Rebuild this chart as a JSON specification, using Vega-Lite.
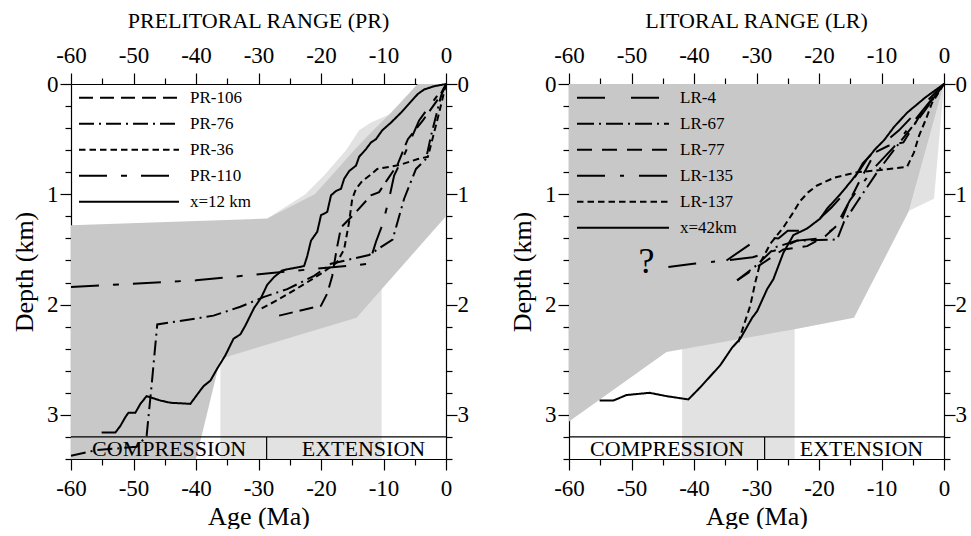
{
  "$schema": "https://vega.github.io/schema/vega-lite/v6.json",
  "background": "white",
  "padding": {"left": 11, "top": 10, "right": 0, "bottom": 0},
  "spacing": 123,
  "bounds": "flush",
  "config": {
    "font": "Liberation Serif",
    "view": {"stroke": null},
    "axis": {"grid": false, "domainColor": "black", "tickColor": "black", "labelColor": "black", "titleColor": "black", "labelFont": "Liberation Serif", "titleFont": "Liberation Serif", "labelFontSize": 23, "titleFontSize": 26, "titleFontWeight": "normal", "labelOverlap": false, "labelFlush": false, "labelBound": false, "zindex": 1, "domainWidth": 1.2, "tickWidth": 1.2},
    "legend": {"labelFont": "Liberation Serif", "labelFontSize": 17, "labelColor": "black"},
    "title": {"font": "Liberation Serif", "fontSize": 22, "fontWeight": "normal", "color": "black"}
  },
  "datasets": {
    "polys": [
      {"p": "PR", "k": "light", "g": "PRl1", "i": 1, "x": -28.6, "y": 1.22},
      {"p": "PR", "k": "light", "g": "PRl1", "i": 2, "x": -22.5, "y": 1.0},
      {"p": "PR", "k": "light", "g": "PRl1", "i": 3, "x": -19.5, "y": 0.83},
      {"p": "PR", "k": "light", "g": "PRl1", "i": 4, "x": -16, "y": 0.6},
      {"p": "PR", "k": "light", "g": "PRl1", "i": 5, "x": -13.9, "y": 0.42},
      {"p": "PR", "k": "light", "g": "PRl1", "i": 6, "x": -12, "y": 0.35},
      {"p": "PR", "k": "light", "g": "PRl1", "i": 7, "x": -8.8, "y": 0.27},
      {"p": "PR", "k": "light", "g": "PRl1", "i": 8, "x": -6.4, "y": 0.14},
      {"p": "PR", "k": "light", "g": "PRl1", "i": 9, "x": -4.3, "y": 0.015},
      {"p": "PR", "k": "light", "g": "PRl1", "i": 10, "x": -4, "y": 0},
      {"p": "PR", "k": "light", "g": "PRl1", "i": 11, "x": 0, "y": 0},
      {"p": "PR", "k": "light", "g": "PRl1", "i": 12, "x": 0, "y": 1.2},
      {"p": "PR", "k": "light", "g": "PRl2", "i": 1, "x": -36.1, "y": 1.8},
      {"p": "PR", "k": "light", "g": "PRl2", "i": 2, "x": -10.3, "y": 1.8},
      {"p": "PR", "k": "light", "g": "PRl2", "i": 3, "x": -10.3, "y": 3.4},
      {"p": "PR", "k": "light", "g": "PRl2", "i": 4, "x": -36.1, "y": 3.4},
      {"p": "PR", "k": "dark", "g": "PRd", "i": 1, "x": -60, "y": 1.28},
      {"p": "PR", "k": "dark", "g": "PRd", "i": 2, "x": -28.6, "y": 1.22},
      {"p": "PR", "k": "dark", "g": "PRd", "i": 3, "x": -21, "y": 1.0},
      {"p": "PR", "k": "dark", "g": "PRd", "i": 4, "x": -17.5, "y": 0.78},
      {"p": "PR", "k": "dark", "g": "PRd", "i": 5, "x": -14.7, "y": 0.6},
      {"p": "PR", "k": "dark", "g": "PRd", "i": 6, "x": -12, "y": 0.44},
      {"p": "PR", "k": "dark", "g": "PRd", "i": 7, "x": -8.8, "y": 0.26},
      {"p": "PR", "k": "dark", "g": "PRd", "i": 8, "x": -4.8, "y": 0.015},
      {"p": "PR", "k": "dark", "g": "PRd", "i": 9, "x": -4.5, "y": 0},
      {"p": "PR", "k": "dark", "g": "PRd", "i": 10, "x": 0, "y": 0},
      {"p": "PR", "k": "dark", "g": "PRd", "i": 11, "x": 0, "y": 1.2},
      {"p": "PR", "k": "dark", "g": "PRd", "i": 12, "x": -10.3, "y": 1.86},
      {"p": "PR", "k": "dark", "g": "PRd", "i": 13, "x": -14.3, "y": 2.12},
      {"p": "PR", "k": "dark", "g": "PRd", "i": 14, "x": -36.1, "y": 2.49},
      {"p": "PR", "k": "dark", "g": "PRd", "i": 15, "x": -40, "y": 3.4},
      {"p": "PR", "k": "dark", "g": "PRd", "i": 16, "x": -60, "y": 3.4},
      {"p": "LR", "k": "light", "g": "LRl1", "i": 1, "x": 0, "y": 0},
      {"p": "LR", "k": "light", "g": "LRl1", "i": 2, "x": -1.6, "y": 1.04},
      {"p": "LR", "k": "light", "g": "LRl1", "i": 3, "x": -5.6, "y": 1.15},
      {"p": "LR", "k": "light", "g": "LRl2", "i": 1, "x": -41.9, "y": 2.2},
      {"p": "LR", "k": "light", "g": "LRl2", "i": 2, "x": -23.9, "y": 2.2},
      {"p": "LR", "k": "light", "g": "LRl2", "i": 3, "x": -23.9, "y": 3.4},
      {"p": "LR", "k": "light", "g": "LRl2", "i": 4, "x": -41.9, "y": 3.4},
      {"p": "LR", "k": "dark", "g": "LRd", "i": 1, "x": -60, "y": 0},
      {"p": "LR", "k": "dark", "g": "LRd", "i": 2, "x": 0, "y": 0},
      {"p": "LR", "k": "dark", "g": "LRd", "i": 3, "x": -5.6, "y": 1.15},
      {"p": "LR", "k": "dark", "g": "LRd", "i": 4, "x": -14.4, "y": 2.12},
      {"p": "LR", "k": "dark", "g": "LRd", "i": 5, "x": -23.5, "y": 2.22},
      {"p": "LR", "k": "dark", "g": "LRd", "i": 6, "x": -44.4, "y": 2.43},
      {"p": "LR", "k": "dark", "g": "LRd", "i": 7, "x": -60, "y": 3.06}
    ],
    "lines": [
      {"p": "PR", "s": "x=12 km", "i": 1, "x": 0, "y": 0},
      {"p": "PR", "s": "x=12 km", "i": 2, "x": -1.9, "y": 0.02},
      {"p": "PR", "s": "x=12 km", "i": 3, "x": -3.5, "y": 0.05},
      {"p": "PR", "s": "x=12 km", "i": 4, "x": -4.5, "y": 0.09},
      {"p": "PR", "s": "x=12 km", "i": 5, "x": -7.2, "y": 0.26},
      {"p": "PR", "s": "x=12 km", "i": 6, "x": -8.8, "y": 0.35},
      {"p": "PR", "s": "x=12 km", "i": 7, "x": -10.2, "y": 0.42},
      {"p": "PR", "s": "x=12 km", "i": 8, "x": -11.2, "y": 0.5},
      {"p": "PR", "s": "x=12 km", "i": 9, "x": -12.0, "y": 0.53},
      {"p": "PR", "s": "x=12 km", "i": 10, "x": -12.8, "y": 0.59},
      {"p": "PR", "s": "x=12 km", "i": 11, "x": -13.9, "y": 0.66},
      {"p": "PR", "s": "x=12 km", "i": 12, "x": -14.4, "y": 0.74},
      {"p": "PR", "s": "x=12 km", "i": 13, "x": -15.5, "y": 0.79},
      {"p": "PR", "s": "x=12 km", "i": 14, "x": -16.3, "y": 0.86},
      {"p": "PR", "s": "x=12 km", "i": 15, "x": -16.8, "y": 0.95},
      {"p": "PR", "s": "x=12 km", "i": 16, "x": -17.6, "y": 0.97},
      {"p": "PR", "s": "x=12 km", "i": 17, "x": -18.4, "y": 1.01},
      {"p": "PR", "s": "x=12 km", "i": 18, "x": -19.0, "y": 1.16},
      {"p": "PR", "s": "x=12 km", "i": 19, "x": -20.0, "y": 1.19},
      {"p": "PR", "s": "x=12 km", "i": 20, "x": -20.6, "y": 1.34},
      {"p": "PR", "s": "x=12 km", "i": 21, "x": -21.6, "y": 1.42},
      {"p": "PR", "s": "x=12 km", "i": 22, "x": -22.2, "y": 1.56},
      {"p": "PR", "s": "x=12 km", "i": 23, "x": -22.7, "y": 1.65},
      {"p": "PR", "s": "x=12 km", "i": 24, "x": -23.5, "y": 1.66},
      {"p": "PR", "s": "x=12 km", "i": 25, "x": -25.4, "y": 1.68},
      {"p": "PR", "s": "x=12 km", "i": 26, "x": -26.2, "y": 1.69},
      {"p": "PR", "s": "x=12 km", "i": 27, "x": -27.5, "y": 1.75},
      {"p": "PR", "s": "x=12 km", "i": 28, "x": -28.6, "y": 1.82},
      {"p": "PR", "s": "x=12 km", "i": 29, "x": -29.6, "y": 1.94},
      {"p": "PR", "s": "x=12 km", "i": 30, "x": -30.7, "y": 2.03},
      {"p": "PR", "s": "x=12 km", "i": 31, "x": -32.1, "y": 2.19},
      {"p": "PR", "s": "x=12 km", "i": 32, "x": -32.9, "y": 2.27},
      {"p": "PR", "s": "x=12 km", "i": 33, "x": -34.0, "y": 2.31},
      {"p": "PR", "s": "x=12 km", "i": 34, "x": -35.3, "y": 2.46},
      {"p": "PR", "s": "x=12 km", "i": 35, "x": -36.6, "y": 2.58},
      {"p": "PR", "s": "x=12 km", "i": 36, "x": -37.7, "y": 2.69},
      {"p": "PR", "s": "x=12 km", "i": 37, "x": -38.8, "y": 2.74},
      {"p": "PR", "s": "x=12 km", "i": 38, "x": -39.6, "y": 2.8},
      {"p": "PR", "s": "x=12 km", "i": 39, "x": -40.9, "y": 2.9},
      {"p": "PR", "s": "x=12 km", "i": 40, "x": -44.1, "y": 2.89},
      {"p": "PR", "s": "x=12 km", "i": 41, "x": -45.7, "y": 2.87},
      {"p": "PR", "s": "x=12 km", "i": 42, "x": -47.9, "y": 2.83},
      {"p": "PR", "s": "x=12 km", "i": 43, "x": -48.9, "y": 2.9},
      {"p": "PR", "s": "x=12 km", "i": 44, "x": -49.7, "y": 2.98},
      {"p": "PR", "s": "x=12 km", "i": 45, "x": -50.8, "y": 2.98},
      {"p": "PR", "s": "x=12 km", "i": 46, "x": -51.3, "y": 3.02},
      {"p": "PR", "s": "x=12 km", "i": 47, "x": -52.1, "y": 3.1},
      {"p": "PR", "s": "x=12 km", "i": 48, "x": -52.9, "y": 3.16},
      {"p": "PR", "s": "x=12 km", "i": 49, "x": -55.1, "y": 3.16},

      {"p": "PR", "s": "PR-106", "i": 1, "x": -26.7, "y": 2.1},
      {"p": "PR", "s": "PR-106", "i": 2, "x": -20, "y": 2.01},
      {"p": "PR", "s": "PR-106", "i": 3, "x": -19, "y": 1.9},
      {"p": "PR", "s": "PR-106", "i": 4, "x": -18.2, "y": 1.74},
      {"p": "PR", "s": "PR-106", "i": 5, "x": -17.5, "y": 1.5},
      {"p": "PR", "s": "PR-106", "i": 6, "x": -16.8, "y": 1.3},
      {"p": "PR", "s": "PR-106", "i": 7, "x": -14.7, "y": 1.18},
      {"p": "PR", "s": "PR-106", "i": 8, "x": -12, "y": 1.01},
      {"p": "PR", "s": "PR-106", "i": 9, "x": -10.7, "y": 0.98},
      {"p": "PR", "s": "PR-106", "i": 10, "x": -9.3, "y": 0.86},
      {"p": "PR", "s": "PR-106", "i": 11, "x": -7.75, "y": 0.73},
      {"p": "PR", "s": "PR-106", "i": 12, "x": -6.1, "y": 0.5},
      {"p": "PR", "s": "PR-106", "i": 13, "x": -3.7, "y": 0.33},
      {"p": "PR", "s": "PR-106", "i": 14, "x": -1.3, "y": 0.14},
      {"p": "PR", "s": "PR-106", "i": 15, "x": 0, "y": 0},

      {"p": "PR", "s": "PR-76", "i": 1, "x": -60, "y": 3.37},
      {"p": "PR", "s": "PR-76", "i": 2, "x": -56, "y": 3.32},
      {"p": "PR", "s": "PR-76", "i": 3, "x": -49.5, "y": 3.29},
      {"p": "PR", "s": "PR-76", "i": 4, "x": -47.9, "y": 3.19},
      {"p": "PR", "s": "PR-76", "i": 5, "x": -47.1, "y": 2.73},
      {"p": "PR", "s": "PR-76", "i": 6, "x": -46.2, "y": 2.18},
      {"p": "PR", "s": "PR-76", "i": 7, "x": -39.3, "y": 2.12},
      {"p": "PR", "s": "PR-76", "i": 8, "x": -37.2, "y": 2.1},
      {"p": "PR", "s": "PR-76", "i": 9, "x": -32.9, "y": 2.02},
      {"p": "PR", "s": "PR-76", "i": 10, "x": -29.1, "y": 1.93},
      {"p": "PR", "s": "PR-76", "i": 11, "x": -25.4, "y": 1.86},
      {"p": "PR", "s": "PR-76", "i": 12, "x": -21.1, "y": 1.74},
      {"p": "PR", "s": "PR-76", "i": 13, "x": -18.4, "y": 1.63},
      {"p": "PR", "s": "PR-76", "i": 14, "x": -12.3, "y": 1.55},
      {"p": "PR", "s": "PR-76", "i": 15, "x": -8.55, "y": 1.41},
      {"p": "PR", "s": "PR-76", "i": 16, "x": -6.7, "y": 1.04},
      {"p": "PR", "s": "PR-76", "i": 17, "x": -4.8, "y": 0.77},
      {"p": "PR", "s": "PR-76", "i": 18, "x": -3.2, "y": 0.68},
      {"p": "PR", "s": "PR-76", "i": 19, "x": -2.4, "y": 0.47},
      {"p": "PR", "s": "PR-76", "i": 20, "x": -0.8, "y": 0.11},
      {"p": "PR", "s": "PR-76", "i": 21, "x": 0, "y": 0},

      {"p": "PR", "s": "PR-36", "i": 1, "x": 0, "y": 0},
      {"p": "PR", "s": "PR-36", "i": 2, "x": -1.1, "y": 0.26},
      {"p": "PR", "s": "PR-36", "i": 3, "x": -1.9, "y": 0.44},
      {"p": "PR", "s": "PR-36", "i": 4, "x": -2.9, "y": 0.66},
      {"p": "PR", "s": "PR-36", "i": 5, "x": -4.5, "y": 0.68},
      {"p": "PR", "s": "PR-36", "i": 6, "x": -7.2, "y": 0.73},
      {"p": "PR", "s": "PR-36", "i": 7, "x": -8.8, "y": 0.75},
      {"p": "PR", "s": "PR-36", "i": 8, "x": -11, "y": 0.77},
      {"p": "PR", "s": "PR-36", "i": 9, "x": -12, "y": 0.82},
      {"p": "PR", "s": "PR-36", "i": 10, "x": -13.4, "y": 0.88},
      {"p": "PR", "s": "PR-36", "i": 11, "x": -14.4, "y": 0.95},
      {"p": "PR", "s": "PR-36", "i": 12, "x": -15, "y": 1.04},
      {"p": "PR", "s": "PR-36", "i": 13, "x": -15.5, "y": 1.25},
      {"p": "PR", "s": "PR-36", "i": 14, "x": -16.3, "y": 1.5},
      {"p": "PR", "s": "PR-36", "i": 15, "x": -17.5, "y": 1.62},
      {"p": "PR", "s": "PR-36", "i": 16, "x": -20, "y": 1.72},
      {"p": "PR", "s": "PR-36", "i": 17, "x": -24, "y": 1.86},
      {"p": "PR", "s": "PR-36", "i": 18, "x": -27, "y": 1.96},
      {"p": "PR", "s": "PR-36", "i": 19, "x": -30, "y": 2.05},

      {"p": "PR", "s": "PR-110", "i": 1, "x": -60, "y": 1.84},
      {"p": "PR", "s": "PR-110", "i": 2, "x": -40, "y": 1.78},
      {"p": "PR", "s": "PR-110", "i": 3, "x": -21.7, "y": 1.68},
      {"p": "PR", "s": "PR-110", "i": 4, "x": -15.8, "y": 1.65},
      {"p": "PR", "s": "PR-110", "i": 5, "x": -12.3, "y": 1.63},
      {"p": "PR", "s": "PR-110", "i": 6, "x": -11.2, "y": 1.43},
      {"p": "PR", "s": "PR-110", "i": 7, "x": -10.2, "y": 1.28},
      {"p": "PR", "s": "PR-110", "i": 8, "x": -9.1, "y": 1.04},
      {"p": "PR", "s": "PR-110", "i": 9, "x": -8.3, "y": 0.83},
      {"p": "PR", "s": "PR-110", "i": 10, "x": -6.5, "y": 0.62},
      {"p": "PR", "s": "PR-110", "i": 11, "x": -5.6, "y": 0.5},
      {"p": "PR", "s": "PR-110", "i": 12, "x": -4.3, "y": 0.33},
      {"p": "PR", "s": "PR-110", "i": 13, "x": -2.5, "y": 0.19},
      {"p": "PR", "s": "PR-110", "i": 14, "x": 0, "y": 0},

      {"p": "LR", "s": "x=42km", "i": 1, "x": 0, "y": 0},
      {"p": "LR", "s": "x=42km", "i": 2, "x": -2.94, "y": 0.12},
      {"p": "LR", "s": "x=42km", "i": 3, "x": -5.9, "y": 0.26},
      {"p": "LR", "s": "x=42km", "i": 4, "x": -8.0, "y": 0.39},
      {"p": "LR", "s": "x=42km", "i": 5, "x": -9.6, "y": 0.51},
      {"p": "LR", "s": "x=42km", "i": 6, "x": -11.0, "y": 0.59},
      {"p": "LR", "s": "x=42km", "i": 7, "x": -12.3, "y": 0.68},
      {"p": "LR", "s": "x=42km", "i": 8, "x": -13.6, "y": 0.79},
      {"p": "LR", "s": "x=42km", "i": 9, "x": -15.0, "y": 0.89},
      {"p": "LR", "s": "x=42km", "i": 10, "x": -16.6, "y": 1.0},
      {"p": "LR", "s": "x=42km", "i": 11, "x": -18.7, "y": 1.13},
      {"p": "LR", "s": "x=42km", "i": 12, "x": -19.8, "y": 1.22},
      {"p": "LR", "s": "x=42km", "i": 13, "x": -21.9, "y": 1.31},
      {"p": "LR", "s": "x=42km", "i": 14, "x": -24.1, "y": 1.37},
      {"p": "LR", "s": "x=42km", "i": 15, "x": -25.7, "y": 1.53},
      {"p": "LR", "s": "x=42km", "i": 16, "x": -27.3, "y": 1.77},
      {"p": "LR", "s": "x=42km", "i": 17, "x": -28.3, "y": 1.86},
      {"p": "LR", "s": "x=42km", "i": 18, "x": -29.9, "y": 2.06},
      {"p": "LR", "s": "x=42km", "i": 19, "x": -30.7, "y": 2.12},
      {"p": "LR", "s": "x=42km", "i": 20, "x": -32.6, "y": 2.31},
      {"p": "LR", "s": "x=42km", "i": 21, "x": -33.9, "y": 2.39},
      {"p": "LR", "s": "x=42km", "i": 22, "x": -35.8, "y": 2.55},
      {"p": "LR", "s": "x=42km", "i": 23, "x": -39.0, "y": 2.75},
      {"p": "LR", "s": "x=42km", "i": 24, "x": -40.9, "y": 2.86},
      {"p": "LR", "s": "x=42km", "i": 25, "x": -44.4, "y": 2.83},
      {"p": "LR", "s": "x=42km", "i": 26, "x": -47.1, "y": 2.8},
      {"p": "LR", "s": "x=42km", "i": 27, "x": -50.8, "y": 2.82},
      {"p": "LR", "s": "x=42km", "i": 28, "x": -52.9, "y": 2.87},
      {"p": "LR", "s": "x=42km", "i": 29, "x": -55.1, "y": 2.87},

      {"p": "LR", "s": "LR-137", "i": 1, "x": 0, "y": 0},
      {"p": "LR", "s": "LR-137", "i": 2, "x": -1.9, "y": 0.17},
      {"p": "LR", "s": "LR-137", "i": 3, "x": -2.9, "y": 0.32},
      {"p": "LR", "s": "LR-137", "i": 4, "x": -4.0, "y": 0.47},
      {"p": "LR", "s": "LR-137", "i": 5, "x": -4.8, "y": 0.62},
      {"p": "LR", "s": "LR-137", "i": 6, "x": -5.9, "y": 0.75},
      {"p": "LR", "s": "LR-137", "i": 7, "x": -10.2, "y": 0.78},
      {"p": "LR", "s": "LR-137", "i": 8, "x": -13.9, "y": 0.8},
      {"p": "LR", "s": "LR-137", "i": 9, "x": -17.6, "y": 0.85},
      {"p": "LR", "s": "LR-137", "i": 10, "x": -20.3, "y": 0.92},
      {"p": "LR", "s": "LR-137", "i": 11, "x": -21.7, "y": 0.98},
      {"p": "LR", "s": "LR-137", "i": 12, "x": -23, "y": 1.06},
      {"p": "LR", "s": "LR-137", "i": 13, "x": -24.3, "y": 1.18},
      {"p": "LR", "s": "LR-137", "i": 14, "x": -25.7, "y": 1.3},
      {"p": "LR", "s": "LR-137", "i": 15, "x": -27.8, "y": 1.45},
      {"p": "LR", "s": "LR-137", "i": 16, "x": -29.4, "y": 1.62},
      {"p": "LR", "s": "LR-137", "i": 17, "x": -30.2, "y": 1.8},
      {"p": "LR", "s": "LR-137", "i": 18, "x": -31, "y": 2.01},
      {"p": "LR", "s": "LR-137", "i": 19, "x": -32.1, "y": 2.2},
      {"p": "LR", "s": "LR-137", "i": 20, "x": -32.9, "y": 2.34},

      {"p": "LR", "s": "LR-4", "i": 1, "x": -34.8, "y": 1.6},
      {"p": "LR", "s": "LR-4", "i": 2, "x": -30.7, "y": 1.44},
      {"p": "LR", "s": "LR-4", "i": 3, "x": -28.9, "y": 1.39},
      {"p": "LR", "s": "LR-4", "i": 4, "x": -26.5, "y": 1.4},
      {"p": "LR", "s": "LR-4", "i": 5, "x": -25, "y": 1.33},
      {"p": "LR", "s": "LR-4", "i": 6, "x": -22, "y": 1.33},
      {"p": "LR", "s": "LR-4", "i": 7, "x": -18, "y": 1.12},
      {"p": "LR", "s": "LR-4", "i": 8, "x": -15.3, "y": 0.95},
      {"p": "LR", "s": "LR-4", "i": 9, "x": -13, "y": 0.72},
      {"p": "LR", "s": "LR-4", "i": 10, "x": -11, "y": 0.6},
      {"p": "LR", "s": "LR-4", "i": 11, "x": -7.2, "y": 0.42},
      {"p": "LR", "s": "LR-4", "i": 12, "x": -3.5, "y": 0.2},
      {"p": "LR", "s": "LR-4", "i": 13, "x": 0, "y": 0},

      {"p": "LR", "s": "LR-67", "i": 1, "x": -33.1, "y": 1.78},
      {"p": "LR", "s": "LR-67", "i": 2, "x": -29.9, "y": 1.64},
      {"p": "LR", "s": "LR-67", "i": 3, "x": -27, "y": 1.48},
      {"p": "LR", "s": "LR-67", "i": 4, "x": -23.5, "y": 1.42},
      {"p": "LR", "s": "LR-67", "i": 5, "x": -17.1, "y": 1.41},
      {"p": "LR", "s": "LR-67", "i": 6, "x": -16.0, "y": 1.25},
      {"p": "LR", "s": "LR-67", "i": 7, "x": -13.9, "y": 1.07},
      {"p": "LR", "s": "LR-67", "i": 8, "x": -10.7, "y": 0.8},
      {"p": "LR", "s": "LR-67", "i": 9, "x": -7.5, "y": 0.56},
      {"p": "LR", "s": "LR-67", "i": 10, "x": -3.7, "y": 0.29},
      {"p": "LR", "s": "LR-67", "i": 11, "x": 0, "y": 0},

      {"p": "LR", "s": "LR-77", "i": 1, "x": -33.1, "y": 1.78},
      {"p": "LR", "s": "LR-77", "i": 2, "x": -28.1, "y": 1.59},
      {"p": "LR", "s": "LR-77", "i": 3, "x": -25.7, "y": 1.5},
      {"p": "LR", "s": "LR-77", "i": 4, "x": -21.9, "y": 1.47},
      {"p": "LR", "s": "LR-77", "i": 5, "x": -19, "y": 1.38},
      {"p": "LR", "s": "LR-77", "i": 6, "x": -16.5, "y": 1.25},
      {"p": "LR", "s": "LR-77", "i": 7, "x": -15.2, "y": 1.07},
      {"p": "LR", "s": "LR-77", "i": 8, "x": -13.5, "y": 0.88},
      {"p": "LR", "s": "LR-77", "i": 9, "x": -11, "y": 0.62},
      {"p": "LR", "s": "LR-77", "i": 10, "x": -8.9, "y": 0.56},
      {"p": "LR", "s": "LR-77", "i": 11, "x": -6.5, "y": 0.53},
      {"p": "LR", "s": "LR-77", "i": 12, "x": -4, "y": 0.3},
      {"p": "LR", "s": "LR-77", "i": 13, "x": 0, "y": 0},

      {"p": "LR", "s": "LR-135", "i": 1, "x": -44.1, "y": 1.66},
      {"p": "LR", "s": "LR-135", "i": 2, "x": -40.1, "y": 1.63},
      {"p": "LR", "s": "LR-135", "i": 3, "x": -34.8, "y": 1.6},
      {"p": "LR", "s": "LR-135", "i": 4, "x": -30.6, "y": 1.57},
      {"p": "LR", "s": "LR-135", "i": 5, "x": -26.5, "y": 1.5},
      {"p": "LR", "s": "LR-135", "i": 6, "x": -23.5, "y": 1.42},
      {"p": "LR", "s": "LR-135", "i": 7, "x": -19.8, "y": 1.4},
      {"p": "LR", "s": "LR-135", "i": 8, "x": -17.4, "y": 1.3},
      {"p": "LR", "s": "LR-135", "i": 9, "x": -15, "y": 1.05},
      {"p": "LR", "s": "LR-135", "i": 10, "x": -11, "y": 0.75},
      {"p": "LR", "s": "LR-135", "i": 11, "x": -8, "y": 0.57},
      {"p": "LR", "s": "LR-135", "i": 12, "x": -5, "y": 0.35},
      {"p": "LR", "s": "LR-135", "i": 13, "x": 0, "y": 0}
    ],
    "rules": [
      {"p": "PR", "x": -60, "x2": 0, "y": 3.2, "y2": 3.2},
      {"p": "PR", "x": -28.7, "x2": -28.7, "y": 3.2, "y2": 3.4},
      {"p": "LR", "x": -60, "x2": 0, "y": 3.2, "y2": 3.2},
      {"p": "LR", "x": -28.7, "x2": -28.7, "y": 3.2, "y2": 3.4}
    ],
    "notes": [
      {"p": "PR", "x": -44.3, "y": 3.31, "t": "COMPRESSION", "sz": "n"},
      {"p": "PR", "x": -13.2, "y": 3.31, "t": "EXTENSION", "sz": "n"},
      {"p": "LR", "x": -44.3, "y": 3.31, "t": "COMPRESSION", "sz": "n"},
      {"p": "LR", "x": -13.2, "y": 3.31, "t": "EXTENSION", "sz": "n"},
      {"p": "LR", "x": -47.6, "y": 1.61, "t": "?", "sz": "q"}
    ]
  },
  "hconcat": [
    {
      "width": 375,
      "height": 375,
      "title": {"text": "PRELITORAL RANGE (PR)", "offset": 11},
      "resolve": {"axis": {"x": "independent", "y": "independent"}},
      "layer": [
        {
          "data": {"name": "polys"},
          "transform": [{"filter": "datum.p === 'PR' && datum.k === 'light'"}],
          "mark": {"type": "line", "fill": "#e2e2e2", "strokeOpacity": 0},
          "encoding": {
            "x": {"field": "x", "type": "quantitative", "scale": {"domain": [-60, 0], "nice": false, "zero": false},
              "axis": {"orient": "bottom", "title": "Age (Ma)", "values": [-60, -50, -40, -30, -20, -10, 0], "labelExpr": "'' + datum.value", "tickSize": 11, "labelPadding": 7, "titlePadding": 3}},
            "y": {"field": "y", "type": "quantitative", "scale": {"domain": [0, 3.4], "reverse": true, "nice": false, "zero": false},
              "axis": {"orient": "left", "title": "Depth (km)", "values": [0, 1, 2, 3], "labelExpr": "'' + datum.value", "tickSize": 11, "labelPadding": 2, "titlePadding": 9}},
            "detail": {"field": "g"},
            "order": {"field": "i", "type": "quantitative"}
          }
        },
        {
          "data": {"name": "polys"},
          "transform": [{"filter": "datum.p === 'PR' && datum.k === 'dark'"}],
          "mark": {"type": "line", "fill": "#c8c8c8", "strokeOpacity": 0},
          "encoding": {
            "x": {"field": "x", "type": "quantitative",
              "axis": {"orient": "top", "title": null, "values": [-60, -50, -40, -30, -20, -10, 0], "labelExpr": "'' + datum.value", "tickSize": 11, "labelPadding": 6}},
            "y": {"field": "y", "type": "quantitative",
              "axis": {"orient": "right", "title": null, "values": [0, 1, 2, 3], "labelExpr": "'' + datum.value", "tickSize": 11, "labelPadding": 0}},
            "detail": {"field": "g"},
            "order": {"field": "i", "type": "quantitative"}
          }
        },
        {
          "data": {"name": "lines"},
          "transform": [{"filter": "datum.p === 'PR'"}],
          "mark": {"type": "line", "color": "black", "strokeWidth": 2},
          "encoding": {
            "x": {"field": "x", "type": "quantitative", "axis": {"orient": "bottom", "title": null, "labels": false, "domain": false, "tickSize": 6, "values": [-55, -45, -35, -25, -15, -5]}},
            "y": {"field": "y", "type": "quantitative", "axis": {"orient": "left", "title": null, "labels": false, "domain": false, "tickSize": 6, "values": [0.2, 0.4, 0.6, 0.8, 1.2, 1.4, 1.6, 1.8, 2.2, 2.4, 2.6, 2.8, 3.2, 3.4]}},
            "detail": {"field": "s"},
            "order": {"field": "i", "type": "quantitative"},
            "strokeDash": {"field": "s", "type": "nominal",
              "scale": {"domain": ["PR-106", "PR-76", "PR-36", "PR-110", "x=12 km"], "range": [[14, 7], [15, 5, 2, 5], [6.5, 4], [28, 14, 6, 14], [1, 0]]},
              "legend": {"title": null, "orient": "none", "legendX": 7, "legendY": 1, "padding": 0, "symbolType": "stroke", "symbolSize": 10000, "symbolStrokeWidth": 2, "symbolStrokeColor": "black", "clipHeight": 25.5, "rowPadding": 0, "labelOffset": 10}}
          }
        },
        {
          "data": {"name": "rules"},
          "transform": [{"filter": "datum.p === 'PR'"}],
          "mark": {"type": "rule", "color": "black", "strokeWidth": 1.2},
          "encoding": {
            "x": {"field": "x", "type": "quantitative", "axis": {"orient": "top", "title": null, "labels": false, "domain": false, "tickSize": 6, "values": [-55, -45, -35, -25, -15, -5]}},
            "x2": {"field": "x2"},
            "y": {"field": "y", "type": "quantitative", "axis": {"orient": "right", "title": null, "labels": false, "domain": false, "tickSize": 6, "values": [0.2, 0.4, 0.6, 0.8, 1.2, 1.4, 1.6, 1.8, 2.2, 2.4, 2.6, 2.8, 3.2, 3.4]}},
            "y2": {"field": "y2"}
          }
        },
        {
          "data": {"name": "notes"},
          "transform": [{"filter": "datum.p === 'PR'"}],
          "mark": {"type": "text", "font": "Liberation Serif", "fontSize": 22, "color": "black", "baseline": "middle", "align": "center"},
          "encoding": {
            "x": {"field": "x", "type": "quantitative", "axis": null},
            "y": {"field": "y", "type": "quantitative", "axis": null},
            "text": {"field": "t"}
          }
        }
      ]
    },
    {
      "width": 375,
      "height": 375,
      "title": {"text": "LITORAL RANGE (LR)", "offset": 11},
      "resolve": {"axis": {"x": "independent", "y": "independent"}},
      "layer": [
        {
          "data": {"name": "polys"},
          "transform": [{"filter": "datum.p === 'LR' && datum.k === 'light'"}],
          "mark": {"type": "line", "fill": "#e2e2e2", "strokeOpacity": 0},
          "encoding": {
            "x": {"field": "x", "type": "quantitative", "scale": {"domain": [-60, 0], "nice": false, "zero": false},
              "axis": {"orient": "bottom", "title": "Age (Ma)", "values": [-60, -50, -40, -30, -20, -10, 0], "labelExpr": "'' + datum.value", "tickSize": 11, "labelPadding": 7, "titlePadding": 3}},
            "y": {"field": "y", "type": "quantitative", "scale": {"domain": [0, 3.4], "reverse": true, "nice": false, "zero": false},
              "axis": {"orient": "left", "title": "Depth (km)", "values": [0, 1, 2, 3], "labelExpr": "'' + datum.value", "tickSize": 11, "labelPadding": 2, "titlePadding": 9}},
            "detail": {"field": "g"},
            "order": {"field": "i", "type": "quantitative"}
          }
        },
        {
          "data": {"name": "polys"},
          "transform": [{"filter": "datum.p === 'LR' && datum.k === 'dark'"}],
          "mark": {"type": "line", "fill": "#c8c8c8", "strokeOpacity": 0},
          "encoding": {
            "x": {"field": "x", "type": "quantitative",
              "axis": {"orient": "top", "title": null, "values": [-60, -50, -40, -30, -20, -10, 0], "labelExpr": "'' + datum.value", "tickSize": 11, "labelPadding": 6}},
            "y": {"field": "y", "type": "quantitative",
              "axis": {"orient": "right", "title": null, "values": [0, 1, 2, 3], "labelExpr": "'' + datum.value", "tickSize": 11, "labelPadding": 0}},
            "detail": {"field": "g"},
            "order": {"field": "i", "type": "quantitative"}
          }
        },
        {
          "data": {"name": "lines"},
          "transform": [{"filter": "datum.p === 'LR'"}],
          "mark": {"type": "line", "color": "black", "strokeWidth": 2},
          "encoding": {
            "x": {"field": "x", "type": "quantitative", "axis": {"orient": "bottom", "title": null, "labels": false, "domain": false, "tickSize": 6, "values": [-55, -45, -35, -25, -15, -5]}},
            "y": {"field": "y", "type": "quantitative", "axis": {"orient": "left", "title": null, "labels": false, "domain": false, "tickSize": 6, "values": [0.2, 0.4, 0.6, 0.8, 1.2, 1.4, 1.6, 1.8, 2.2, 2.4, 2.6, 2.8, 3.2, 3.4]}},
            "detail": {"field": "s"},
            "order": {"field": "i", "type": "quantitative"},
            "strokeDash": {"field": "s", "type": "nominal",
              "scale": {"domain": ["LR-4", "LR-67", "LR-77", "LR-135", "LR-137", "x=42km"], "range": [[28, 26], [17, 5, 2, 5], [15, 10], [28, 15, 4, 15], [6.5, 4], [1, 0]]},
              "legend": {"title": null, "orient": "none", "legendX": 7, "legendY": 1, "padding": 0, "symbolType": "stroke", "symbolSize": 8464, "symbolStrokeWidth": 2, "symbolStrokeColor": "black", "clipHeight": 25.5, "rowPadding": 0, "labelOffset": 10}}
          }
        },
        {
          "data": {"name": "rules"},
          "transform": [{"filter": "datum.p === 'LR'"}],
          "mark": {"type": "rule", "color": "black", "strokeWidth": 1.2},
          "encoding": {
            "x": {"field": "x", "type": "quantitative", "axis": {"orient": "top", "title": null, "labels": false, "domain": false, "tickSize": 6, "values": [-55, -45, -35, -25, -15, -5]}},
            "x2": {"field": "x2"},
            "y": {"field": "y", "type": "quantitative", "axis": {"orient": "right", "title": null, "labels": false, "domain": false, "tickSize": 6, "values": [0.2, 0.4, 0.6, 0.8, 1.2, 1.4, 1.6, 1.8, 2.2, 2.4, 2.6, 2.8, 3.2, 3.4]}},
            "y2": {"field": "y2"}
          }
        },
        {
          "data": {"name": "notes"},
          "transform": [{"filter": "datum.p === 'LR'"}],
          "mark": {"type": "text", "font": "Liberation Serif", "color": "black", "baseline": "middle", "align": "center"},
          "encoding": {
            "x": {"field": "x", "type": "quantitative", "axis": null},
            "y": {"field": "y", "type": "quantitative", "axis": null},
            "text": {"field": "t"},
            "size": {"field": "sz", "type": "nominal", "scale": {"domain": ["n", "q"], "range": [22, 36]}, "legend": null}
          }
        }
      ]
    }
  ],
  "resolve": {"scale": {"strokeDash": "independent", "size": "independent"}, "legend": {"strokeDash": "independent"}}
}
